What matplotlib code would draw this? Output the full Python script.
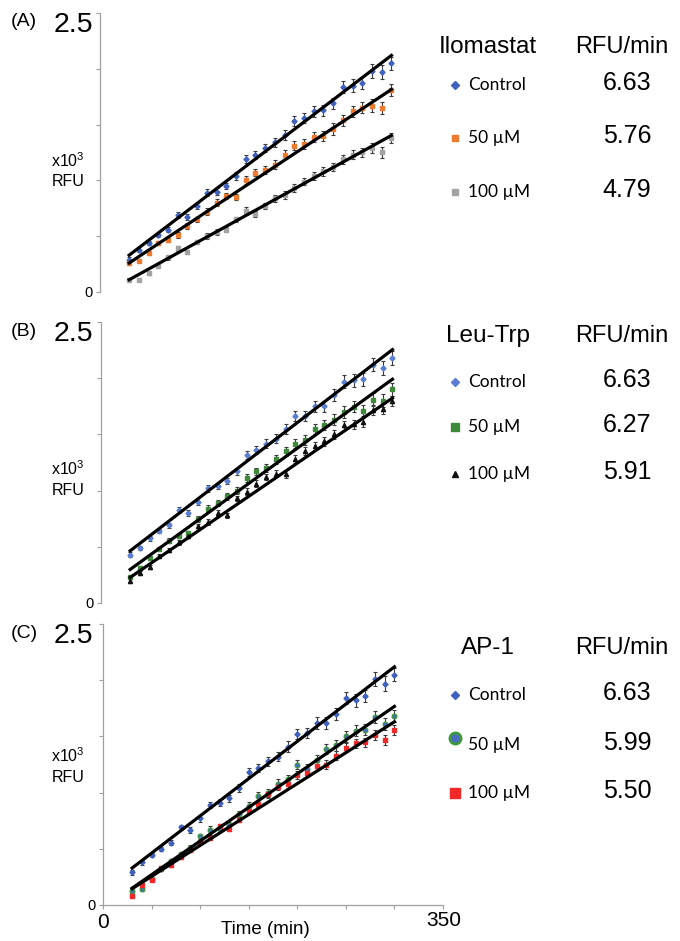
import numpy as np
import matplotlib.pyplot as plt
from matplotlib.lines import Line2D

plt.rcParams['font.family'] = ['Liberation Sans', 'DejaVu Sans']
plt.rcParams['mathtext.default'] = 'regular'

# Tiempo (min)
t = np.arange(30, 301, 10)

# (A) Ilomastat, x10^3 RFU
a_ctrl = [0.29, 0.38, 0.44, 0.51, 0.56, 0.69, 0.67, 0.77, 0.89, 0.90, 0.95, 1.04, 1.19, 1.23,
          1.29, 1.34, 1.41, 1.53, 1.56, 1.62, 1.63, 1.69, 1.84, 1.85, 1.87, 1.98, 1.97, 2.05]
a_50 = [0.26, 0.28, 0.35, 0.44, 0.47, 0.51, 0.59, 0.65, 0.72, 0.80, 0.86, 0.85, 1.00, 1.07,
        1.09, 1.14, 1.23, 1.31, 1.33, 1.39, 1.40, 1.46, 1.54, 1.62, 1.65, 1.67, 1.65, 1.81]
a_100 = [0.11, 0.11, 0.17, 0.23, 0.31, 0.39, 0.36, 0.45, 0.50, 0.54, 0.56, 0.65, 0.73, 0.70,
         0.77, 0.84, 0.87, 0.93, 0.99, 1.04, 1.08, 1.12, 1.19, 1.23, 1.25, 1.29, 1.25, 1.38]

# (B) Leu-Trp
b_ctrl = [0.43, 0.49, 0.575, 0.64, 0.69, 0.83, 0.80, 0.90, 1.02, 1.04, 1.085, 1.17, 1.32, 1.36,
          1.415, 1.46, 1.545, 1.66, 1.66, 1.75, 1.75, 1.85, 1.97, 1.98, 1.99, 2.12, 2.09, 2.18]
b_50 = [0.23, 0.31, 0.40, 0.48, 0.555, 0.60, 0.62, 0.75, 0.84, 0.89, 0.95, 1.00, 1.11, 1.17,
        1.20, 1.28, 1.35, 1.415, 1.45, 1.545, 1.585, 1.63, 1.70, 1.745, 1.71, 1.81, 1.80, 1.90]
b_100 = [0.20, 0.27, 0.32, 0.42, 0.47, 0.54, 0.60, 0.685, 0.72, 0.80, 0.78, 0.93, 0.99, 1.06,
         1.12, 1.15, 1.15, 1.28, 1.35, 1.40, 1.44, 1.50, 1.58, 1.59, 1.61, 1.72, 1.73, 1.80]

# (C) AP-1
c_ctrl = [0.29, 0.38, 0.445, 0.50, 0.555, 0.69, 0.67, 0.77, 0.89, 0.91, 0.95, 1.04, 1.18, 1.22,
          1.28, 1.32, 1.41, 1.52, 1.53, 1.62, 1.62, 1.70, 1.84, 1.82, 1.86, 2.01, 1.97, 2.05]
c_50 = [0.125, 0.14, 0.23, 0.32, 0.39, 0.45, 0.51, 0.61, 0.67, 0.68, 0.71, 0.81, 0.88, 0.97,
        1.00, 1.08, 1.12, 1.25, 1.21, 1.29, 1.385, 1.42, 1.50, 1.55, 1.56, 1.675, 1.61, 1.68]
c_100 = [0.08, 0.175, 0.225, 0.33, 0.355, 0.43, 0.49, 0.56, 0.60, 0.70, 0.68, 0.76, 0.84, 0.90,
         0.985, 1.05, 1.08, 1.16, 1.17, 1.24, 1.25, 1.33, 1.40, 1.44, 1.45, 1.51, 1.47, 1.56]

# Barras de error (desviación)
err_ctrl = [0.02, 0.02, 0.02, 0.02, 0.025, 0.025, 0.025, 0.03, 0.03, 0.03, 0.03, 0.035, 0.035, 0.035,
            0.04, 0.04, 0.045, 0.045, 0.045, 0.05, 0.05, 0.05, 0.055, 0.055, 0.055, 0.06, 0.065, 0.06]
err_50 = [0.015, 0.015, 0.02, 0.02, 0.02, 0.025, 0.025, 0.025, 0.03, 0.03, 0.03, 0.03, 0.035, 0.035,
          0.035, 0.04, 0.04, 0.04, 0.045, 0.045, 0.045, 0.05, 0.05, 0.05, 0.05, 0.055, 0.055, 0.055]
err_100 = [0.015, 0.015, 0.015, 0.015, 0.02, 0.02, 0.02, 0.02, 0.025, 0.025, 0.025, 0.025, 0.03, 0.03,
           0.03, 0.03, 0.035, 0.035, 0.035, 0.035, 0.04, 0.04, 0.04, 0.04, 0.04, 0.045, 0.045, 0.045]

# Pendientes (RFU/min) e interceptos de los ajustes (x10^3 RFU)
slopes_a = [6.63, 5.76, 4.79]
icpt_a = [0.131, 0.087, -0.034]
slopes_b = [6.63, 6.27, 5.91]
icpt_b = [0.265, 0.11, 0.05]
slopes_c = [6.63, 5.99, 5.50]
icpt_c = [0.13, -0.03, -0.02]

labels = ['Control', '50 µM', '100 µM']
titles = ['Ilomastat', 'Leu-Trp', 'AP-1']
panel_tags = ['(A)', '(B)', '(C)']

W, H = 680, 941


def fx(px):
    return px / W


def fy(py):
    return 1 - py / H


# Estilos de marcadores por panel
styles_a = [dict(marker='D', color='#3f62c0', mec='#3f62c0', ms=2.6),
            dict(marker='s', color='#ee7a2e', mec='#ee7a2e', ms=3.0),
            dict(marker='s', color='#a3a3a3', mec='#a3a3a3', ms=3.0)]
styles_b = [dict(marker='D', color='#5a7fd2', mec='#5a7fd2', ms=2.6),
            dict(marker='s', color='#3f8a3a', mec='#3f8a3a', ms=3.4),
            dict(marker='^', color='#111111', mec='#111111', ms=3.0)]
styles_c = [dict(marker='D', color='#3f62c0', mec='#3f62c0', ms=2.6),
            dict(marker='o', color='#4a6cc0', mec='#3c9a3a', ms=3.4, mew=0.9),
            dict(marker='s', color='#f02828', mec='#f02828', ms=3.4)]

# Posición de cada panel en píxeles: (izq, abajo, arriba)
geom = [(100, 292, 13), (101, 603, 322), (103, 905, 624)]

# Leyenda: y de título y de cada fila
leg_title_y = [47, 336, 648]
leg_rows_y = [[85, 138, 192], [382, 427, 474], [695, 745, 793]]
leg_mark_y = [[85, 138, 192], [382, 427, 474], [695, 738, 793]]
rfu_label_y = [(161, 181), (469, 490), (756, 777)]

legend_marker = [
    [dict(marker='D', color='#3f62c0', ms=4.2), dict(marker='s', color='#ee7a2e', ms=5),
     dict(marker='s', color='#a3a3a3', ms=5)],
    [dict(marker='D', color='#5a7fd2', ms=4.0), dict(marker='s', color='#3f8a3a', ms=6),
     dict(marker='^', color='#111111', ms=5)],
    [dict(marker='D', color='#3f62c0', ms=4.2),
     dict(marker='o', color='#4a6cc0', mec='#3c9a3a', mew=2, ms=8),
     dict(marker='s', color='#f02828', ms=7)],
]

data = [(a_ctrl, a_50, a_100), (b_ctrl, b_50, b_100), (c_ctrl, c_50, c_100)]
slopes = [slopes_a, slopes_b, slopes_c]
icpts = [icpt_a, icpt_b, icpt_c]
styles = [styles_a, styles_b, styles_c]
errs = [err_ctrl, err_50, err_100]

fig = plt.figure(figsize=(6.8, 9.41), dpi=100)

for p in range(3):
    left, bot, top = geom[p]
    ax = fig.add_axes([fx(left), fy(bot), 0.5, (bot - top) / H])
    ax.set_xlim(0, 350)
    ax.set_ylim(0, 2.5)

    for k in range(3):
        y = np.array(data[p][k])
        ax.errorbar(t, y, yerr=errs[k], fmt='none', ecolor='#3a3a3a',
                    elinewidth=0.8, capsize=1.6, capthick=0.8, zorder=2)
        ax.plot(t, y, ls='none', zorder=3, **styles[p][k])
        tt = np.array([t[0], t[-1]])
        ax.plot(tt, icpts[p][k] + slopes[p][k] / 1000 * tt, color='black', lw=2.3, zorder=4)

    for s in ['top', 'right']:
        ax.spines[s].set_visible(False)
    ax.spines['left'].set_color('#a0a0a0')
    ax.spines['left'].set_linewidth(0.9)
    ax.set_yticks(np.arange(0, 2.51, 0.5))
    ax.set_yticklabels(['0', '', '', '', '', ''], fontsize=10.5)
    ax.tick_params(axis='y', length=3, width=0.8, color='#a0a0a0', pad=2)

    if p < 2:
        ax.spines['bottom'].set_visible(False)
        ax.set_xticks([])
    else:
        ax.spines['bottom'].set_color('#a0a0a0')
        ax.spines['bottom'].set_linewidth(0.9)
        ax.set_xticks(np.arange(0, 351, 50))
        ax.set_xticklabels([])
        ax.tick_params(axis='x', length=3, width=0.8, color='#a0a0a0')
        fig.text(fx(103), fy(922), '0', fontsize=15, ha='center', va='center')
        fig.text(fx(444), fy(921), '350', fontsize=15, ha='center', va='center')
        fig.text(fx(265), fy(930), 'Time (min)', fontsize=13.5, ha='center', va='center')

    # Etiquetas del panel
    fig.text(fx(24), fy(top + 9), panel_tags[p], fontsize=14, ha='center', va='center')
    fig.text(fx(73), fy(top + 12), '2.5', fontsize=20.5, ha='center', va='center')
    fig.text(fx(68), fy(rfu_label_y[p][0]), 'x10$^{3}$', fontsize=11.5, ha='center', va='center')
    fig.text(fx(68), fy(rfu_label_y[p][1]), 'RFU', fontsize=11.5, ha='center', va='center')

    # Leyenda manual
    fig.text(fx(488), fy(leg_title_y[p]), titles[p], fontsize=17.5, ha='center', va='center')
    fig.text(fx(622), fy(leg_title_y[p]), 'RFU/min', fontsize=17, ha='center', va='center')
    for k in range(3):
        fig.add_artist(Line2D([fx(455)], [fy(leg_mark_y[p][k])], transform=fig.transFigure,
                              ls='none', **legend_marker[p][k]))
        fig.text(fx(468), fy(leg_rows_y[p][k]), labels[k], fontsize=12.5, family='Lato',
                 ha='left', va='center')
        fig.text(fx(627), fy(leg_rows_y[p][k] - 2), f'{slopes[p][k]:.2f}', fontsize=18,
                 ha='center', va='center')

fig.savefig('out.png', dpi=100)
